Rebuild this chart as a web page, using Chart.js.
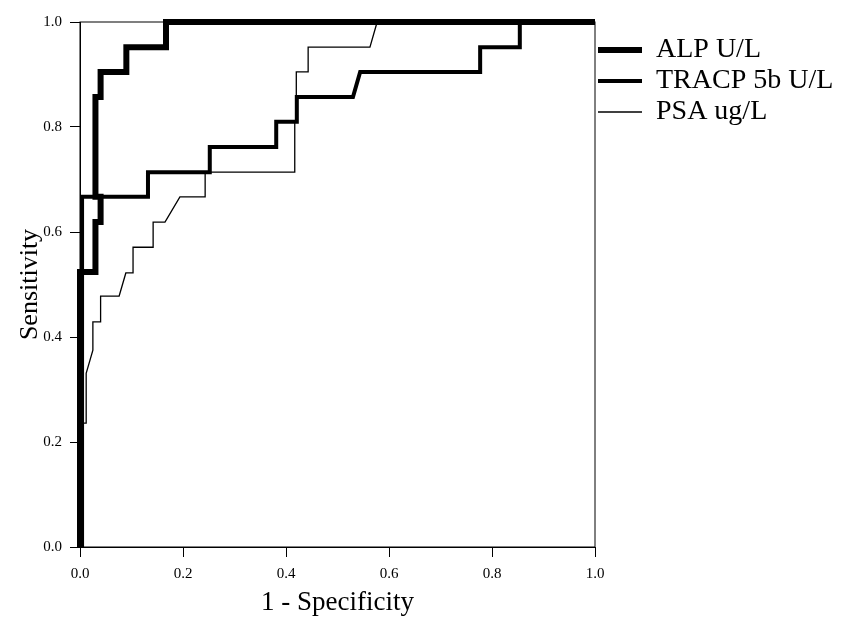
<!DOCTYPE html>
<html>
<head>
<meta charset="utf-8">
<script src="https://cdn.jsdelivr.net/npm/chart.js@4.4.0/dist/chart.umd.min.js"></script>
<style>
  body { margin: 0; background: #fff; }
  #wrap { width: 849px; height: 620px; }
</style>
</head>
<body>
<div id="wrap"><canvas id="roc"></canvas></div>
<script>
// ROC curves, x = 1 - specificity, y = sensitivity
const seriesLabels = ["ALP U/L", "TRACP 5b U/L", "PSA ug/L"];
const tickValues = [0, 0.2, 0.4, 0.6, 0.8, 1.0];

const alpX = [0, 0, 0.03, 0.03, 0.04, 0.04, 0.03, 0.03, 0.04, 0.04, 0.09, 0.09, 0.167, 0.167, 1];
const alpY = [0, 0.524, 0.524, 0.619, 0.619, 0.667, 0.667, 0.857, 0.857, 0.905, 0.905, 0.952, 0.952, 1, 1];

const tracpX = [0.004, 0.004, 0.132, 0.132, 0.252, 0.252, 0.381, 0.381, 0.421, 0.421, 0.53, 0.544, 0.777, 0.777, 0.854, 0.854, 1];
const tracpY = [0, 0.667, 0.667, 0.714, 0.714, 0.762, 0.762, 0.81, 0.81, 0.857, 0.857, 0.905, 0.905, 0.952, 0.952, 1, 1];

const psaX = [0, 0, 0.012, 0.012, 0.025, 0.025, 0.04, 0.04, 0.076, 0.089, 0.103, 0.103, 0.142, 0.142, 0.165, 0.194, 0.243, 0.243, 0.417, 0.417, 0.42, 0.42, 0.443, 0.443, 0.563, 0.577, 1];
const psaY = [0, 0.236, 0.236, 0.331, 0.375, 0.429, 0.429, 0.478, 0.478, 0.522, 0.522, 0.571, 0.571, 0.619, 0.619, 0.667, 0.667, 0.714, 0.714, 0.81, 0.81, 0.905, 0.905, 0.952, 0.952, 1, 1];

function toPoints(xs, ys) {
  return xs.map((x, i) => ({ x: x, y: ys[i] }));
}

const serif = "'Liberation Serif', 'Times New Roman', serif";

// thin box around the plot area
const framePlugin = {
  id: "frame",
  beforeDatasetsDraw(chart) {
    const { ctx, chartArea } = chart;
    ctx.save();
    ctx.strokeStyle = "#000";
    ctx.lineWidth = 1;
    ctx.strokeRect(chartArea.left, chartArea.top, chartArea.right - chartArea.left, chartArea.bottom - chartArea.top);
    ctx.restore();
  },
};

// the layout caps a side legend at a quarter of the width, which cuts the long label
const wideLegendPlugin = {
  id: "wideLegend",
  afterInit(chart) {
    const legend = chart.legend;
    const fit = legend.fit.bind(legend);
    legend.fit = () => {
      fit();
      legend.width = 254;
    };
  },
};

const lineStyle = (label, points, width) => ({
  label: label,
  data: points,
  borderColor: "#000",
  backgroundColor: "#000",
  borderWidth: width,
  borderJoinStyle: "miter",
  borderCapStyle: "butt",
  pointRadius: 0,
  tension: 0,
  fill: false,
  clip: false,
});

new Chart(document.getElementById("roc"), {
  type: "line",
  data: {
    datasets: [
      lineStyle(seriesLabels[0], toPoints(alpX, alpY), 6),
      lineStyle(seriesLabels[1], toPoints(tracpX, tracpY), 4),
      lineStyle(seriesLabels[2], toPoints(psaX, psaY), 1.3),
    ],
  },
  options: {
    responsive: true,
    maintainAspectRatio: false,
    animation: false,
    layout: { padding: { left: 17, right: 0, top: 22, bottom: 4 } },
    plugins: {
      tooltip: { enabled: false },
      legend: {
        position: "right",
        align: "start",
        title: { display: true, text: "", font: { size: 5 }, padding: { top: 5, bottom: 0 } },
        labels: {
          usePointStyle: true,
          pointStyle: "line",
          pointStyleWidth: 44,
          color: "#000",
          padding: 3,
          font: { family: serif, size: 28 },
        },
      },
    },
    scales: {
      x: {
        type: "linear",
        min: 0,
        max: 1,
        afterBuildTicks: (axis) => { axis.ticks = tickValues.map((v) => ({ value: v })); },
        afterFit: (axis) => { axis.height = 69; },
        ticks: {
          color: "#000",
          padding: 8,
          font: { family: serif, size: 15 },
          callback: (v) => v.toFixed(1),
        },
        grid: { drawOnChartArea: false, color: "#000", tickLength: 10 },
        border: { color: "#000", width: 1 },
        title: {
          display: true,
          text: "1 - Specificity",
          color: "#000",
          font: { family: serif, size: 27, lineHeight: 1 },
          padding: { top: 0, bottom: 0 },
        },
      },
      y: {
        type: "linear",
        min: 0,
        max: 1,
        afterBuildTicks: (axis) => { axis.ticks = tickValues.map((v) => ({ value: v })); },
        afterFit: (axis) => { axis.width = 63; },
        ticks: {
          color: "#000",
          padding: 8,
          font: { family: serif, size: 15 },
          callback: (v) => v.toFixed(1),
        },
        grid: { drawOnChartArea: false, color: "#000", tickLength: 10 },
        border: { color: "#000", width: 1 },
        title: {
          display: true,
          text: "Sensitivity",
          color: "#000",
          font: { family: serif, size: 26, lineHeight: 1 },
          padding: { top: 0, bottom: 0 },
        },
      },
    },
  },
  plugins: [framePlugin, wideLegendPlugin],
});
</script>
</body>
</html>
